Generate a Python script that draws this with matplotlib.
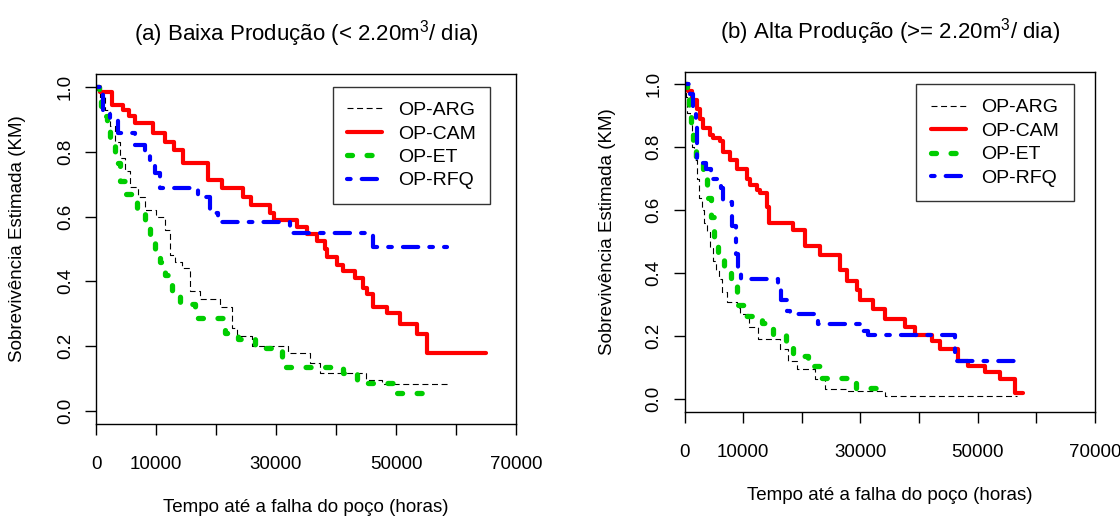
import matplotlib
matplotlib.use("Agg")
import matplotlib.pyplot as plt

plt.rcParams['font.family'] = ['Liberation Sans', 'DejaVu Sans']
plt.rcParams['mathtext.fontset'] = 'custom'
plt.rcParams['mathtext.rm'] = 'Liberation Sans'
plt.rcParams['mathtext.it'] = 'Liberation Sans:italic'
plt.rcParams['lines.scale_dashes'] = False

series_names = ["OP-ARG", "OP-CAM", "OP-ET", "OP-RFQ"]
titles = ["(a) Baixa Produção (< 2.20$\\mathregular{m^3}$/ dia)",
          "(b) Alta Produção (>= 2.20$\\mathregular{m^3}$/ dia)"]
xlabel = "Tempo até a falha do poço (horas)"
ylabel = "Sobrevivência Estimada (KM)"
xticks = [0, 10000, 20000, 30000, 40000, 50000, 60000, 70000]
xticklabels = ["0", "10000", "", "30000", "", "50000", "", "70000"]
yticks = [0.0, 0.2, 0.4, 0.6, 0.8, 1.0]
yticklabels = ["0.0", "0.2", "0.4", "0.6", "0.8", "1.0"]

# ---- Panel (a) low production ----
arg_a_t = [0, 700, 1500, 2300, 3200, 4000, 4800, 5700, 7000, 8200, 10000, 11500, 12300,
           13200, 14300, 15700, 17300, 20700, 22700, 23500, 26000, 32000, 35700, 37300,
           45000, 47700, 58700]
arg_a_s = [1.0, 0.97, 0.93, 0.88, 0.83, 0.78, 0.74, 0.69, 0.66, 0.62, 0.60, 0.56, 0.48,
           0.46, 0.44, 0.37, 0.346, 0.32, 0.257, 0.232, 0.20, 0.18, 0.148, 0.118,
           0.095, 0.083, 0.083]
cam_a_t = [0, 700, 2700, 4500, 5500, 6500, 9500, 11500, 13000, 14500, 18700, 21000, 24500,
           25800, 29000, 29600, 33500, 35200, 36800, 38200, 38500, 40200, 41200, 43200,
           44500, 45200, 46200, 48500, 50700, 53500, 55200, 65000]
cam_a_s = [1.0, 0.985, 0.944, 0.93, 0.91, 0.888, 0.857, 0.83, 0.805, 0.764, 0.712, 0.687, 0.66,
           0.635, 0.61, 0.588, 0.567, 0.547, 0.526, 0.50, 0.474, 0.45, 0.433, 0.41,
           0.38, 0.36, 0.32, 0.303, 0.27, 0.238, 0.18, 0.18]
et_a_t = [0, 500, 800, 1500, 1800, 2300, 3200, 4000, 4800, 6800, 8200, 9000, 9800, 10700,
          11500, 12700, 14000, 16500, 21500, 23700, 26500, 31000, 41200, 43500, 49800, 55700]
et_a_s = [1.0, 0.97, 0.94, 0.91, 0.88, 0.83, 0.765, 0.71, 0.67, 0.62, 0.57, 0.517, 0.48, 0.46,
          0.42, 0.37, 0.33, 0.288, 0.24, 0.223, 0.196, 0.136, 0.118, 0.088, 0.057, 0.057]
rfq_a_t = [0, 1200, 2300, 3700, 6500, 8200, 9000, 9800, 10700, 17000, 19000, 20300, 32300,
           46200, 58500]
rfq_a_s = [1.0, 0.93, 0.905, 0.857, 0.82, 0.80, 0.77, 0.733, 0.687, 0.66, 0.61, 0.582, 0.55,
           0.505, 0.505]

# ---- Panel (b) high production ----
arg_b_t = [0, 300, 500, 900, 1300, 1600, 2100, 2500, 3000, 3300, 3800, 4300, 4900, 5400, 5900,
           6400, 7200, 9000, 9500, 11000, 12500, 16300, 17700, 19200, 22300, 24000, 27500,
           34200, 56700]
arg_b_s = [1.0, 0.96, 0.91, 0.87, 0.80, 0.76, 0.70, 0.64, 0.60, 0.56, 0.53, 0.48, 0.44, 0.41,
           0.38, 0.34, 0.31, 0.29, 0.27, 0.23, 0.19, 0.158, 0.12, 0.095, 0.063, 0.032, 0.025,
           0.01, 0.01]
cam_b_t = [0, 600, 1300, 2100, 2600, 3200, 4300, 4900, 6000, 6600, 7800, 9000, 10600, 11200,
           12400, 12900, 14100, 14400, 18500, 20500, 23100, 26500, 27700, 29400, 29900, 32100,
           34200, 37600, 39300, 42200, 43600, 46700, 48400, 51300, 53800, 56400, 57800]
cam_b_s = [1.0, 0.98, 0.95, 0.92, 0.89, 0.86, 0.84, 0.83, 0.82, 0.785, 0.76, 0.73, 0.70, 0.68,
           0.665, 0.655, 0.61, 0.56, 0.538, 0.485, 0.459, 0.41, 0.374, 0.348, 0.316, 0.285,
           0.253, 0.23, 0.205, 0.184, 0.158, 0.12, 0.105, 0.085, 0.063, 0.02, 0.02]
et_b_t = [0, 400, 800, 1100, 1500, 2000, 3200, 3800, 4500, 5000, 5700, 6700, 8000, 9000, 10100,
          13200, 15100, 17300, 18500, 21000, 23300, 29300, 34200]
et_b_s = [1.0, 0.96, 0.935, 0.87, 0.81, 0.75, 0.70, 0.64, 0.58, 0.51, 0.46, 0.41, 0.36, 0.30,
          0.263, 0.243, 0.205, 0.165, 0.136, 0.105, 0.066, 0.035, 0.035]
rfq_b_t = [0, 900, 1500, 2000, 2200, 3700, 4500, 6200, 6600, 8100, 8800, 9100, 9600, 15900,
           16400, 17500, 18000, 22800, 30300, 31300, 46100, 46300, 57700]
rfq_b_s = [1.0, 0.97, 0.93, 0.88, 0.75, 0.73, 0.70, 0.67, 0.627, 0.55, 0.46, 0.42, 0.38, 0.35,
           0.316, 0.28, 0.269, 0.237, 0.215, 0.203, 0.15, 0.12, 0.12]

styles = {
    "OP-ARG": dict(color="black", lw=0.8, dashes=(4.3, 2.6), solid_capstyle="butt",
                   dash_capstyle="butt"),
    "OP-CAM": dict(color="#FF0000", lw=3.0, solid_capstyle="round", solid_joinstyle="round"),
    "OP-ET": dict(color="#00CD00", lw=3.8, dashes=(3.6, 10.5), dash_capstyle="round",
                  dash_joinstyle="round"),
    "OP-RFQ": dict(color="#0000FF", lw=3.0, dashes=(2.6, 8.0, 11.0, 8.0), dash_capstyle="round",
                   dash_joinstyle="round"),
}

W, H = 1120, 521
fig = plt.figure(figsize=(W / 100, H / 100), dpi=100)

panels = [
    dict(box=(96, 516, 74, 424), ylab_x=18,
         data=[(arg_a_t, arg_a_s), (cam_a_t, cam_a_s), (et_a_t, et_a_s), (rfq_a_t, rfq_a_s)],
         title=titles[0]),
    dict(box=(684.5, 1095, 71.7, 411.7), ylab_x=608,
         data=[(arg_b_t, arg_b_s), (cam_b_t, cam_b_s), (et_b_t, et_b_s), (rfq_b_t, rfq_b_s)],
         title=titles[1]),
]

FS = 13.5
for p in panels:
    x0, x1, ytop, ybot = p["box"]
    ax = fig.add_axes([x0 / W, (H - ybot) / H, (x1 - x0) / W, (ybot - ytop) / H])
    hpx = ybot - ytop
    wpx = x1 - x0
    for name, (t, s) in zip(series_names, p["data"]):
        ax.plot(t, s, drawstyle="steps-post", label=name, **styles[name])
    ax.set_xlim(0, 70000)
    ax.set_ylim(-0.04, 1.04)
    ax.set_xticks(xticks)
    ax.set_xticklabels(xticklabels)
    ax.set_yticks(yticks)
    ax.set_yticklabels(yticklabels)
    for lab in ax.get_yticklabels():
        lab.set_rotation(90)
        lab.set_va("center")
    ax.tick_params(axis="both", direction="out", length=8, width=1.0, labelsize=FS,
                   color="black", labelcolor="black")
    ax.tick_params(axis="x", pad=15)
    ax.tick_params(axis="y", pad=8)
    for sp in ax.spines.values():
        sp.set_linewidth(1.0)
        sp.set_color("black")
    ax.set_xlabel(xlabel, fontsize=FS, va="center")
    ax.xaxis.set_label_coords(0.5, -84 / hpx)
    ax.set_ylabel(ylabel, fontsize=FS, va="center")
    ax.yaxis.set_label_coords((p["ylab_x"] - x0) / wpx, 0.53)
    ax.set_title(p["title"], fontsize=16, va="center", y=1 + 40 / hpx, pad=0)
    leg = ax.legend(loc="upper left", bbox_to_anchor=(0.564, 0.963), borderaxespad=0,
                    frameon=True, fancybox=False, fontsize=14, handlelength=1.8,
                    handletextpad=0.8, labelspacing=0.3, borderpad=0.75)
    leg.get_frame().set_edgecolor("black")
    leg.get_frame().set_linewidth(1.0)

fig.savefig("out.png", dpi=100)
